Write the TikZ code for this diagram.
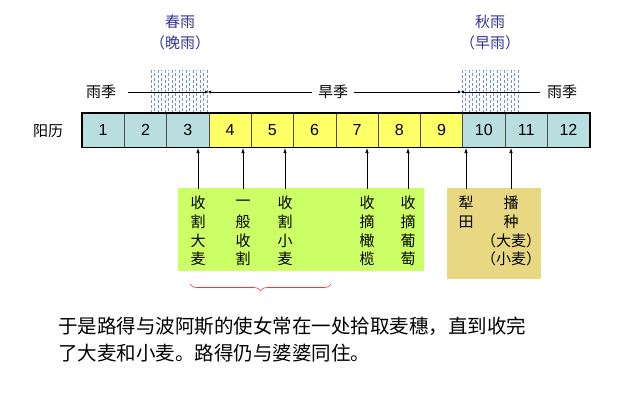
\documentclass[tikz,border=0pt]{standalone}
\usepackage{fontspec}
\setmainfont{Liberation Sans}
\newfontfamily\cjk{Noto Sans CJK SC}
\usetikzlibrary{decorations.pathreplacing,arrows.meta}
\definecolor{cellblue}{HTML}{B8DEE0}
\definecolor{cellyel}{HTML}{FFFF66}
\definecolor{greenbox}{HTML}{CCFF66}
\definecolor{tanbox}{HTML}{E8D882}
\definecolor{rainblue}{HTML}{3366CC}
\definecolor{titleblue}{HTML}{333399}
\begin{document}
\begin{tikzpicture}[x=1pt,y=-1pt,
  cell/.style={draw=black!70,line width=0.6pt,minimum width=42.3pt,minimum height=34pt,inner sep=0pt,font=\fontsize{16}{16}\selectfont},
  lbl/.style={font=\cjk\fontsize{15}{16}\selectfont,inner sep=1pt},
  ttl/.style={font=\cjk\fontsize{15}{21}\selectfont,text=titleblue,align=center},
  up/.style={-{Latex[length=5pt,width=3.5pt]},line width=0.7pt},
  ch/.style={font=\cjk\fontsize{15}{16}\selectfont,inner sep=0pt},
  rain/.style={rainblue!70,dash pattern=on 3pt off 2pt,line width=0.4pt}]
\useasboundingbox (0,0) rectangle (617,415);
% rain hatch
\foreach \xa in {150,461}{
  \foreach \i in {0,...,8}{
    \draw[rain] (\xa+1+\i*7,70) -- (\xa+1+\i*7,113);
    \ifnum\i<8 \draw[rain,dash phase=2.5pt] (\xa+4.5+\i*7,70) -- (\xa+4.5+\i*7,113);\fi
  }
}
% cells
\foreach \m in {1,...,12}{
  \ifnum\m<4 \def\fc{cellblue}\else\ifnum\m<10 \def\fc{cellyel}\else\def\fc{cellblue}\fi\fi
  \node[cell,fill=\fc] (c\m) at ({82+42.3*(\m-0.5)},130) {\m};
}
\draw[line width=1.6pt] (c1.north west) rectangle (c12.south east);
\node[lbl] (yl) at (48,131) {阳历};
% seasons
\node[lbl] (r1) at (101,92) {雨季};
\node[lbl] (dry) at (333,92) {旱季};
\node[lbl] (r2) at (562,92) {雨季};
\coordinate (b1) at (208,92);
\coordinate (b2) at (461,92);
\coordinate (r1e) at (128,92);
\coordinate (r2w) at (540,92);
\coordinate (dw) at (312,92);
\coordinate (de) at (354,92);
\draw[-{Latex[length=3pt,width=3pt]}] (r1e) -- (b1);
\draw[-{Latex[length=3pt,width=3pt]}] (dw) -- (b1);
\draw[-{Latex[length=3pt,width=3pt]}] (de) -- (b2);
\draw[-{Latex[length=3pt,width=3pt]}] (r2w) -- (b2);
\node[ttl] (spring) at (180,32) {春雨\\（晚雨）};
\node[ttl] (autumn) at (490,32) {秋雨\\（早雨）};
% boxes
\fill[greenbox] (178,188) rectangle (424,271);
\fill[tanbox] (447,188) rectangle (541,279);
\foreach \x/\a/\b/\c/\d [count=\k] in {198/收/割/大/麦,243/一/般/收/割,285/收/割/小/麦,367/收/摘/橄/榄,408/收/摘/葡/萄}{
  \node[ch] (g\k a) at (\x,203) {\a};
  \node[ch] (g\k b) at (\x,222) {\b};
  \node[ch] (g\k c) at (\x,241) {\c};
  \node[ch] (g\k d) at (\x,259) {\d};
  \draw[up] (\x,189) -- (\x,148);
}
\node[ch] (p1) at (466,203) {犁};
\node[ch] (p2) at (466,222) {田};
\node[ch] (s1) at (511,203) {播};
\node[ch] (s2) at (511,222) {种};
\node[ch] (s3) at (511,241) {（大麦）};
\node[ch] (s4) at (511,259) {（小麦）};
\draw[up] (466,189) -- (466,148);
\draw[up] (511,189) -- (511,148);
% brace
\draw[red!80,line width=0.6pt,decorate,decoration={brace,mirror,amplitude=7pt}] (190,284) -- (331,284);
% paragraph
\node[font=\cjk\fontsize{19.5}{27}\selectfont,anchor=north west,align=left,inner sep=0pt] (para) at (58,317)
 {于是路得与波阿斯的使女常在一处拾取麦穗，直到收完\\了大麦和小麦。路得仍与婆婆同住。};
\end{tikzpicture}
\end{document}
